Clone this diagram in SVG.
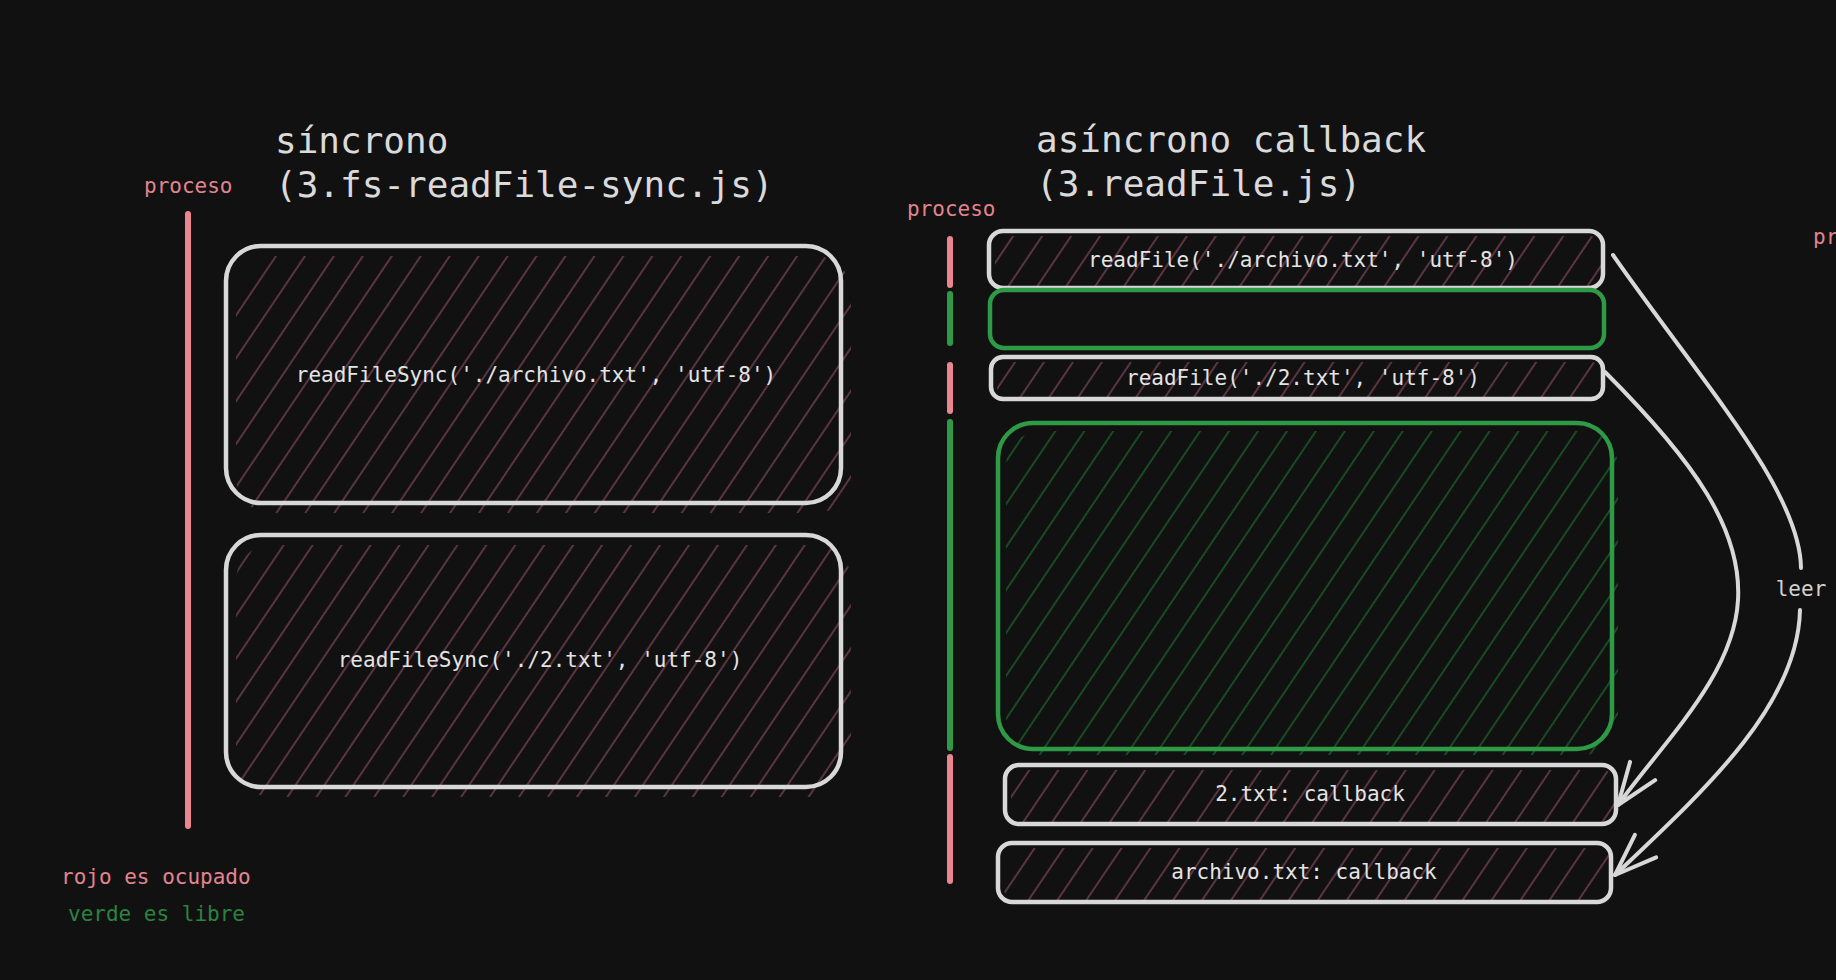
<svg xmlns="http://www.w3.org/2000/svg" width="1836" height="980" viewBox="0 0 1836 980">
<style>
text{font-family:"DejaVu Sans Mono","Liberation Mono",monospace}
.title{font-size:36px;fill:#dadada}
.lbl{font-size:21px;fill:#e4e4e4;text-anchor:middle}
.pink{font-size:21px;fill:#e3848e}
.greentxt{font-size:21px;fill:#2b8340}
.box{fill:none;stroke:#d8d8d8;stroke-width:4.5}
.gbox{fill:none;stroke:#2f9a45;stroke-width:4.5}
.rh{fill:url(#hatchR)}
.gh{fill:url(#hatchG)}
.rseg{stroke:#ec8590;stroke-width:6;stroke-linecap:round;fill:none}
.gseg{stroke:#2f9a45;stroke-width:6;stroke-linecap:round;fill:none}
.arrow{fill:none;stroke:#d8d8d8;stroke-width:4;stroke-linecap:round;marker-end:url(#head)}
</style>
<defs>
<pattern id="hatchR" patternUnits="userSpaceOnUse" width="24" height="24" patternTransform="rotate(34)">
<line x1="12" y1="0" x2="12" y2="24" stroke="#5a3440" stroke-width="2"/>
</pattern>
<pattern id="hatchG" patternUnits="userSpaceOnUse" width="24" height="24" patternTransform="rotate(34)">
<line x1="12" y1="0" x2="12" y2="24" stroke="#184a23" stroke-width="2"/>
</pattern>
<marker id="head" markerUnits="userSpaceOnUse" markerWidth="60" markerHeight="60" refX="0" refY="0" viewBox="-50 -30 60 60" orient="auto" overflow="visible">
<path d="M-42,-15.5 L0,0 L-42,15.5" fill="none" stroke="#d8d8d8" stroke-width="4" stroke-linecap="round" stroke-linejoin="round"/>
</marker>
</defs>
<rect x="0" y="0" width="1836" height="980" fill="#111111"/>

<g id="title-sync">
<text class="title" x="275" y="153">síncrono</text>
<text class="title" x="275" y="197">(3.fs-readFile-sync.js)</text>
</g>
<g id="title-async">
<text class="title" x="1036" y="152">asíncrono callback</text>
<text class="title" x="1036" y="196">(3.readFile.js)</text>
</g>

<g id="proceso-sync">
<text class="pink" x="144" y="193">proceso</text>
<line class="rseg" x1="188" y1="214" x2="188" y2="826"/>
</g>
<g id="proceso-async">
<text class="pink" x="907" y="216">proceso</text>
<line class="rseg" x1="950" y1="239" x2="950" y2="285"/>
<line class="gseg" x1="950" y1="294" x2="950" y2="343"/>
<line class="rseg" x1="950" y1="365" x2="950" y2="411"/>
<line class="gseg" x1="950" y1="422" x2="950" y2="748"/>
<line class="rseg" x1="950" y1="757" x2="950" y2="881"/>
</g>
<g id="proceso-cut">
<text class="pink" x="1813" y="244">pr</text>
</g>

<g id="sync-read-archivo">
<rect class="rh" x="236" y="256" width="615" height="257" rx="35"/>
<rect class="box" x="226" y="246" width="615" height="257" rx="35"/>
<text class="lbl" x="536" y="382">readFileSync('./archivo.txt', 'utf-8')</text>
</g>
<g id="sync-read-2">
<rect class="rh" x="236" y="545" width="615" height="252" rx="35"/>
<rect class="box" x="226" y="535" width="615" height="252" rx="35"/>
<text class="lbl" x="540" y="667">readFileSync('./2.txt', 'utf-8')</text>
</g>

<g id="async-read-archivo">
<rect class="rh" x="995" y="236" width="608" height="52" rx="14"/>
<rect class="box" x="989" y="231" width="614" height="57" rx="14"/>
<text class="lbl" x="1303" y="267">readFile('./archivo.txt', 'utf-8')</text>
</g>
<g id="async-free-1">
<rect class="gbox" x="990" y="290" width="614" height="58" rx="14"/>
</g>
<g id="async-read-2">
<rect class="rh" x="997" y="362" width="606" height="37" rx="12"/>
<rect class="box" x="991" y="357" width="612" height="42" rx="12"/>
<text class="lbl" x="1303" y="385">readFile('./2.txt', 'utf-8')</text>
</g>
<g id="async-free-2">
<rect class="gh" x="1006" y="431" width="612" height="324" rx="35"/>
<rect class="gbox" x="998" y="423" width="614" height="326" rx="35"/>
</g>
<g id="callback-2">
<rect class="rh" x="1011" y="770" width="605" height="54" rx="14"/>
<rect class="box" x="1005" y="765" width="611" height="59" rx="14"/>
<text class="lbl" x="1310" y="801">2.txt: callback</text>
</g>
<g id="callback-archivo">
<rect class="rh" x="1004" y="848" width="607" height="54" rx="14"/>
<rect class="box" x="998" y="843" width="613" height="59" rx="14"/>
<text class="lbl" x="1304" y="879">archivo.txt: callback</text>
</g>

<g id="connectors">
<path class="arrow" d="M1605,372 C1695,462 1742,530 1738,600 C1734,675 1665,740 1618,805"/>
<path class="arrow" d="M1613,255 C1700,380 1800,490 1801,568 M1800,610 C1798,705 1705,790 1615,875"/>
<text class="lbl" x="1801" y="596" style="fill:#d4d4d4">leer</text>
</g>

<g id="legend">
<text class="pink" x="61" y="884">rojo es ocupado</text>
<text class="greentxt" x="68" y="921">verde es libre</text>
</g>
</svg>
